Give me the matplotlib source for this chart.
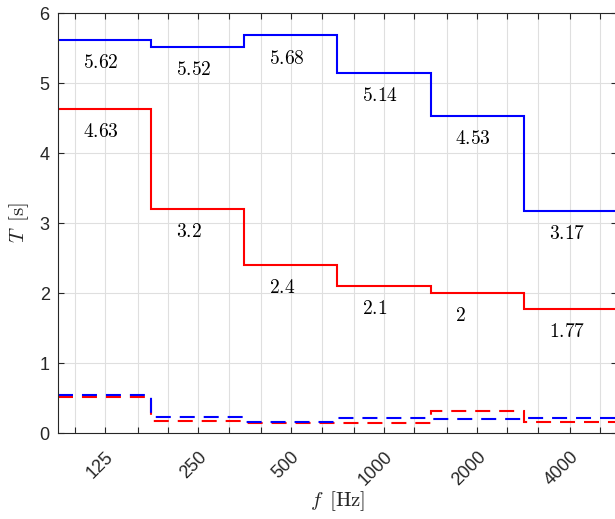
import numpy as np
import matplotlib
matplotlib.use("Agg")
import matplotlib.pyplot as plt

plt.rcParams['font.family'] = ['Liberation Sans', 'DejaVu Sans']
plt.rcParams['mathtext.fontset'] = 'cm'

# octave band centres [Hz]
bands = [125, 250, 500, 1000, 2000, 4000]
# third-octave grid / tick positions
thirds = [100, 125, 160, 200, 250, 315, 400, 500, 630, 800, 1000,
          1250, 1600, 2000, 2500, 3150, 4000, 5000]

T_blue = [5.62, 5.52, 5.68, 5.14, 4.53, 3.17]
T_red = [4.63, 3.2, 2.4, 2.1, 2.0, 1.77]
T_blue_dash = [0.55, 0.23, 0.16, 0.21, 0.20, 0.22]
T_red_dash = [0.51, 0.17, 0.14, 0.14, 0.31, 0.16]
labels_blue = ['5.62', '5.52', '5.68', '5.14', '4.53', '3.17']
labels_red = ['4.63', '3.2', '2.4', '2.1', '2', '1.77']

edges = [bands[0] / np.sqrt(2)] + [b * np.sqrt(2) for b in bands]

fig = plt.figure(figsize=(6.15, 5.19), dpi=100)
ax = fig.add_axes([58 / 615, 1 - 433 / 519, 559 / 615, 420 / 519])

dash = (0, (7.2, 4.3))
ax.stairs(T_blue, edges, color='#0000ff', lw=1.5, baseline=None)
ax.stairs(T_red, edges, color='#ff0000', lw=1.5, baseline=None)
ax.stairs(T_red_dash, edges, color='#ff0000', lw=1.5, ls=dash, baseline=None)
ax.stairs(T_blue_dash, edges, color='#0000ff', lw=1.5, ls=dash, baseline=None)

for f, t, s in zip(bands, T_blue, labels_blue):
    ax.text(f * 0.85, t - 0.33, '$' + s + '$', ha='left', va='center', fontsize=14)
for f, t, s in zip(bands, T_red, labels_red):
    ax.text(f * 0.85, t - 0.33, '$' + s + '$', ha='left', va='center', fontsize=14)

ax.set_xscale('log')
ax.set_xlim(edges[0], edges[-1])
ax.set_ylim(0, 6)
ax.set_xticks(thirds)
ax.set_xticklabels([str(f) if f in bands else '' for f in thirds],
                   rotation=45, ha='right', va='top', rotation_mode='anchor')
ax.xaxis.set_minor_locator(matplotlib.ticker.NullLocator())
ax.set_yticks(range(7))

ax.grid(True, color='#dfdfdf', lw=0.8)
ax.set_axisbelow(True)
ax.tick_params(direction='in', length=4, top=True, right=True,
               labelsize=13, colors='#262626', width=0.8)
ax.tick_params(axis='x', pad=11)
ax.tick_params(axis='y', pad=6)
for sp in ax.spines.values():
    sp.set_color('#262626')
    sp.set_linewidth(0.8)

ax.set_xlabel(r'$f\ \,[\mathrm{Hz}]$', fontsize=15, color='#262626', labelpad=0)
ax.set_ylabel(r'$T\ \,[\mathrm{s}]$', fontsize=15, color='#262626', labelpad=6)

fig.savefig('out.png', dpi=100)
